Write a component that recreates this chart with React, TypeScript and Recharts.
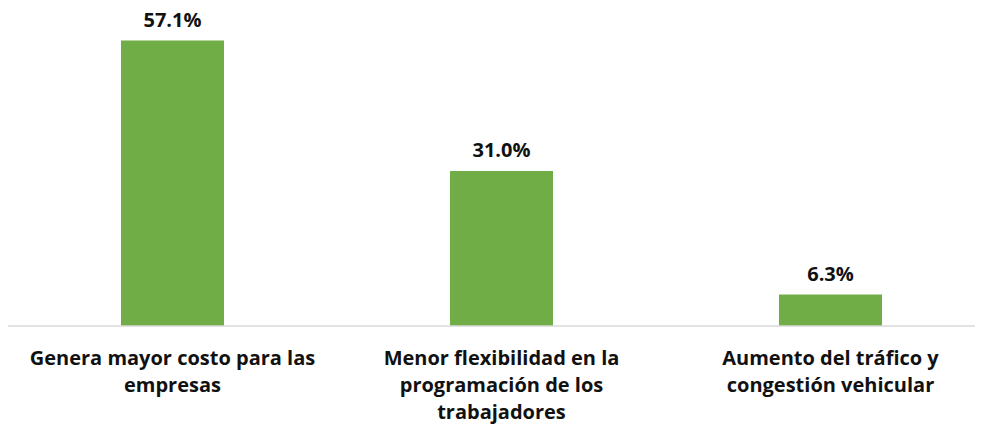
import React from "react";
import { BarChart, Bar, XAxis, YAxis, LabelList } from "recharts";

const categories = ["costo", "flexibilidad", "trafico"];
const values = [57.1, 31.0, 6.3];
const tickLines: string[][] = [
  ["Genera mayor costo para las", "empresas"],
  ["Menor flexibilidad en la", "programación de los", "trabajadores"],
  ["Aumento del tráfico y", "congestión vehicular"],
];

const data = categories.map((c, i) => ({ key: c, value: values[i], idx: i }));

const FONT = "'Open Sans', sans-serif";

const CategoryTick = (props: any) => {
  const { x, payload } = props;
  const lines = tickLines[payload.index] || [];
  const axisY = 326;
  return (
    <g>
      <text
        x={x}
        y={axisY}
        textAnchor="middle"
        fontFamily={FONT}
        fontWeight={700}
        fontSize={20}
        fill="#111111"
      >
        {lines.map((l, i) => (
          <tspan key={i} x={x} dy={i === 0 ? 39 : 27}>
            {l}
          </tspan>
        ))}
      </text>
    </g>
  );
};

export default function App() {
  return (
    <div style={{ width: 975, height: 427, overflow: "hidden", marginTop: -8 }}>
      <style>{`body{overflow:hidden}`}</style>
      <BarChart
        width={987}
        height={427}
        data={data}
        margin={{ top: 26, right: 0, left: 0, bottom: 0 }}
      >
        <XAxis
          dataKey="key"
          height={101}
          tickLine={false}
          axisLine={{ stroke: "#d9d9d9", strokeWidth: 1.5 }}
          tick={<CategoryTick />}
          interval={0}
        />
        <YAxis hide domain={[0, 60]} />
        <Bar dataKey="value" fill="#70AD47" barSize={103} isAnimationActive={false}>
          <LabelList
            dataKey="value"
            position="top"
            offset={14}
            formatter={(v: any) => `${Number(v).toFixed(1)}%`}
            style={{ fontFamily: FONT, fontWeight: 700, fontSize: 20, fill: "#111111" }}
          />
        </Bar>
      </BarChart>
    </div>
  );
}
